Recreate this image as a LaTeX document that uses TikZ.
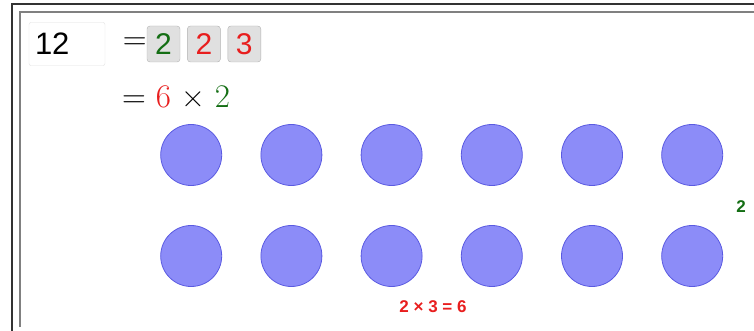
\documentclass[tikz,border=0pt]{standalone}
\usepackage{fontspec}
\setsansfont{Liberation Sans}
\usepackage{tikz}
\usetikzlibrary{positioning}
\definecolor{ggred}{RGB}{232,30,30}
\definecolor{gggreen}{RGB}{20,110,20}
\definecolor{dotfill}{RGB}{140,140,248}
\definecolor{dotline}{RGB}{90,90,225}
\tikzset{
  inbox/.style={draw=black!12,fill=white,rounded corners=2pt,minimum width=76pt,
    minimum height=43pt,text width=64pt,align=left,font=\sffamily\fontsize{31}{31}\selectfont},
  factor/.style={draw=black!30,fill=black!12,rounded corners=3pt,minimum width=33pt,
    minimum height=36pt,inner sep=0pt,font=\sffamily\fontsize{30}{30}\selectfont},
  eqn/.style={inner sep=0pt,font=\rmfamily\fontsize{33}{33}\selectfont},
  dot/.style={circle,draw=dotline,fill=dotfill,line width=0.8pt,minimum size=61pt,inner sep=0pt},
  lbl/.style={inner sep=0pt,font=\sffamily\bfseries\fontsize{17}{17}\selectfont},
}
\begin{document}
\begin{tikzpicture}[x=1pt,y=-1pt]
  \useasboundingbox (0,0) rectangle (754,331);
  % frame
  \draw[line width=1.6pt,black!80] (12,331) -- (12,4) -- (754,4);
  \draw[line width=1.6pt,black!50] (20,327) -- (20,12) -- (754,12);
  % input and factors
  \node[inbox] (num) at (67,44) {12};
  \node[factor,text=gggreen] (fa) at (163.5,44) {2};
  \node[factor,text=ggred,right=7pt of fa] (fb) {2};
  \node[factor,text=ggred,right=7pt of fb] (fc) {3};
  \node[eqn,anchor=east] (eqa) at (fa.west) {=};
  \node[eqn,anchor=base west] (eqb) at (122,108) {= \textcolor{ggred}{6} × \textcolor{gggreen}{2}};
  % dots
  \foreach \i in {1,...,6}{
    \node[dot] (top\i) at ({91+100.2*\i},155) {};
    \node[dot] (bot\i) at ({91+100.2*\i},256) {};
  }
  \node[lbl,text=gggreen] (rows) at (741,207) {2};
  \node[lbl,text=ggred] (prod) at (433,307) {2 × 3 = 6};
\end{tikzpicture}
\end{document}
